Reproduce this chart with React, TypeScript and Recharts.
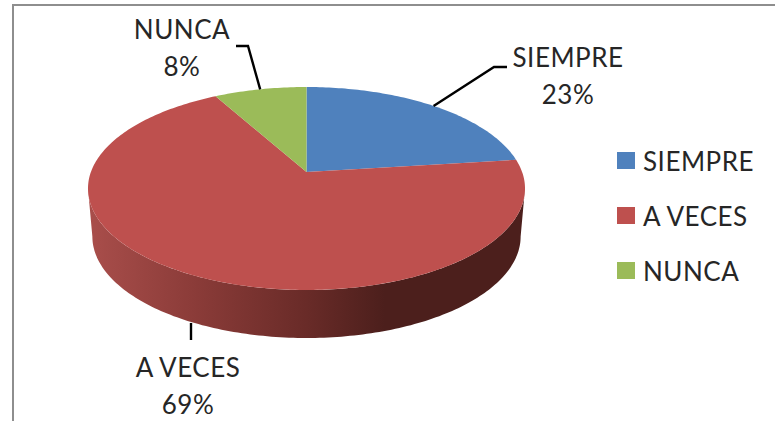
import { Pie, PieChart, Legend } from "recharts";

const CATEGORIES = ["SIEMPRE", "A VECES", "NUNCA"];
const VALUES = [23, 69, 8];
const COLORS = ["#4F81BD", "#BE504E", "#9BBB59"];

const data = CATEGORIES.map((name, i) => ({ name, value: VALUES[i], fill: COLORS[i] }));

// faked 3D look: the flat pie circle is run through a perspective projection
const PERSPECTIVE = 0.1626;
const Y_SCALE = 98.8 / 218;
const X_SCALE = 215.6 / 218;
const DEPTH = 48;
const FLOOR_SHRINK = 0.98;
const FONT = "Lato, 'Open Sans', sans-serif";

// where each data label sits, and the bend of its leader line
const LABEL_LAYOUT = [
  { x: 568, y: 67, elbow: [494, 67], end: [507, 67], floor: false },
  { x: 188, y: 377, elbow: [191, 340], end: [191, 340], floor: true },
  { x: 182, y: 39, elbow: [248, 46], end: [236, 46], floor: false },
];

function project(cx: number, cy: number, r: number, theta: number) {
  const a = (theta * Math.PI) / 180;
  const u = Math.sin(a);
  const v = -Math.cos(a);
  const w = 1 - PERSPECTIVE * v;
  return [cx + (r * X_SCALE * u) / w, cy + (r * Y_SCALE * v) / w];
}

function sampleArc(cx: number, cy: number, r: number, from: number, to: number) {
  const pts: number[][] = [];
  const steps = Math.max(2, Math.ceil(to - from));
  for (let i = 0; i <= steps; i++) {
    pts.push(project(cx, cy, r, from + ((to - from) * i) / steps));
  }
  return pts;
}

const toPath = (pts: number[][]) => pts.map((p, i) => `${i ? "L" : "M"}${p[0].toFixed(2)},${p[1].toFixed(2)}`).join(" ");

function Slice3D(props: any) {
  const { cx, cy, outerRadius, startAngle, endAngle, fill, index } = props;
  const from = 90 - startAngle;
  const to = 90 - endAngle;

  const wallStart = (Math.acos(-PERSPECTIVE) * 180) / Math.PI;
  const wallEnd = 360 - wallStart;
  const a = Math.max(from, wallStart);
  const b = Math.min(to, wallEnd);
  let wall = null;
  if (b > a) {
    const rim = sampleArc(cx, cy, outerRadius, a, b);
    const floor = rim.map((p) => [cx + (p[0] - cx) * FLOOR_SHRINK, p[1] + DEPTH]).reverse();
    const id = `wall-${index}`;
    wall = (
      <>
        <defs>
          <linearGradient id={id} gradientUnits="userSpaceOnUse" x1={cx - outerRadius} x2={cx + outerRadius} y1={0} y2={0}>
            <stop offset="0%" stopColor="#A94E4B" />
            <stop offset="25%" stopColor="#8A3B38" />
            <stop offset="50%" stopColor="#692B28" />
            <stop offset="68%" stopColor="#4C1F1C" />
            <stop offset="100%" stopColor="#4C1F1C" />
          </linearGradient>
        </defs>
        <path d={toPath(rim.concat(floor)) + " Z"} fill={`url(#${id})`} />
      </>
    );
  }

  const top = toPath([[cx, cy], ...sampleArc(cx, cy, outerRadius, from, to)]) + " Z";
  return (
    <g>
      {wall}
      <path d={top} fill={fill} />
    </g>
  );
}

function SliceLabel(props: any) {
  const { cx, cy, outerRadius, midAngle, index, name, value } = props;
  const layout = LABEL_LAYOUT[index];
  const p = project(cx, cy, outerRadius, 90 - midAngle);
  const start = layout.floor ? [layout.elbow[0], p[1] + DEPTH] : p;
  const leader = toPath([start, layout.elbow, layout.end]);
  const textStyle = { fontFamily: FONT, fontSize: 26, letterSpacing: 0.5, fill: "#262626" };
  return (
    <g>
      <path d={leader} fill="none" stroke="#000" strokeWidth={2.4} />
      <text x={layout.x} y={layout.y} textAnchor="middle" style={textStyle}>{name}</text>
      <text x={layout.x} y={layout.y + 37} textAnchor="middle" style={textStyle}>{`${value}%`}</text>
    </g>
  );
}

function LegendList({ payload }: any) {
  return (
    <div style={{ fontFamily: FONT, fontSize: 26, letterSpacing: 0.5, color: "#262626" }}>
      {(payload ?? []).map((item: any) => (
        <div key={item.value} style={{ display: "flex", alignItems: "center", height: 55 }}>
          <span style={{ width: 18, height: 17, background: item.payload?.fill ?? item.color, marginRight: 8 }} />
          {item.value}
        </div>
      ))}
    </div>
  );
}

export default function App() {
  return (
    <div style={{ position: "absolute", left: 0, top: 0, width: 775, height: 421, background: "#fff", overflow: "hidden" }}>
      <div
        style={{
          position: "absolute",
          left: 12,
          top: 4,
          width: 780,
          height: 440,
          borderLeft: "2.5px solid #8E8E8E",
          borderTop: "2.5px solid #8E8E8E",
        }}
      />
      <PieChart width={775} height={421} margin={{ top: 0, right: 0, bottom: 0, left: 0 }} style={{ position: "absolute", left: 0, top: 0 }}>
        <Pie
          data={data}
          dataKey="value"
          nameKey="name"
          cx={306.5}
          cy={172}
          outerRadius={218}
          startAngle={90}
          endAngle={-270}
          stroke="none"
          shape={Slice3D}
          label={SliceLabel}
          labelLine={false}
          isAnimationActive={false}
        />
        <Legend
          layout="vertical"
          align="right"
          verticalAlign="top"
          itemSorter={null}
          content={LegendList}
          wrapperStyle={{ left: 617, right: "auto", top: 133, width: 150 }}
        />
      </PieChart>
    </div>
  );
}
